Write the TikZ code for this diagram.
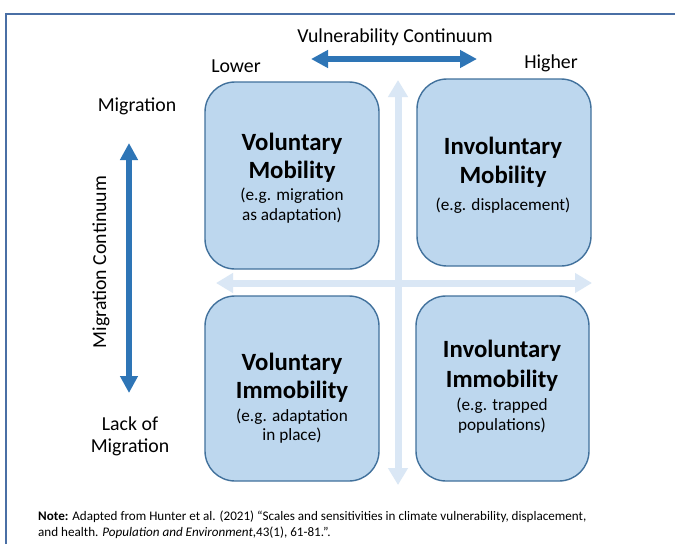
\documentclass[tikz,border=0pt]{standalone}
\usepackage{fontspec}
\setmainfont{Carlito}
\usetikzlibrary{arrows.meta}

\definecolor{framecol}{HTML}{4A6FA5}
\definecolor{axisdark}{HTML}{2E75B6}
\definecolor{axislight}{HTML}{DAE7F5}
\definecolor{quadfill}{HTML}{BDD7EE}
\definecolor{quadline}{HTML}{41719C}

\tikzset{
  label/.style={inner sep=0pt, anchor=base, font=\fontsize{19.8}{23}\selectfont},
  qtitle/.style={inner sep=0pt, anchor=base, font=\bfseries\fontsize{24.8}{28}\selectfont},
  qsub/.style={inner sep=0pt, anchor=base, font=\fontsize{17.2}{20}\selectfont},
  quad/.style={draw=quadline, line width=1.4pt, fill=quadfill, rounded corners=30pt,
    minimum width=174pt, inner sep=0pt},
  darkaxis/.style={draw=axisdark, line width=5.5pt,
    {Triangle[width=17pt,length=17pt]}-{Triangle[width=17pt,length=17pt]}},
  lightaxis/.style={draw=axislight, line width=7pt,
    {Triangle[width=19pt,length=17pt]}-{Triangle[width=19pt,length=17pt]}},
  notetext/.style={inner sep=0pt, anchor=base west, font=\fontsize{13.1}{15}\selectfont}
}

\begin{document}
\begin{tikzpicture}[x=1pt,y=-1pt]
  \useasboundingbox (0,0) rectangle (675,544);
  \fill[white] (0,0) rectangle (675,544);

  % outer frame
  \draw[framecol, line width=2pt] (6,544) -- (6,14) -- (675,14);

  % light cross axes behind the quadrants
  \coordinate (hl) at (216,283);
  \coordinate (hr) at (592,283);
  \coordinate (vt) at (398,80);
  \coordinate (vb) at (398,485);
  \draw[lightaxis] (hl) -- (hr);
  \draw[lightaxis] (vt) -- (vb);

  % quadrants
  \node[quad, minimum height=187pt] (vm) at (292,175.5) {};
  \node[quad, minimum height=187pt] (im) at (504,172.5) {};
  \node[quad, minimum height=185pt] (vi) at (292,388.5) {};
  \node[quad, minimum height=185pt, minimum width=173pt] (ii) at (502.5,388.5) {};

  % quadrant texts
  \node[qtitle] (vmA) at (292,150) {Voluntary};
  \node[qtitle] (vmB) at (292,178) {Mobility};
  \node[qsub]   (vmC) at (292,200) {(e.g. migration};
  \node[qsub]   (vmD) at (292,220) {as adaptation)};

  \node[qtitle] (imA) at (503,154) {Involuntary};
  \node[qtitle] (imB) at (503,183) {Mobility};
  \node[qsub]   (imC) at (503,210) {(e.g. displacement)};

  \node[qtitle] (viA) at (292,370) {Voluntary};
  \node[qtitle] (viB) at (292,398) {Immobility};
  \node[qsub]   (viC) at (292,421) {(e.g. adaptation};
  \node[qsub]   (viD) at (292,440) {in place)};

  \node[qtitle] (iiA) at (502,357) {Involuntary};
  \node[qtitle] (iiB) at (502,387) {Immobility};
  \node[qsub]   (iiC) at (502,410) {(e.g. trapped};
  \node[qsub]   (iiD) at (502,430) {populations)};

  % vulnerability axis
  \node[label] (vc) at (395,42) {Vulnerability Continuum};
  \node[label] (lo) at (236,72) {Lower};
  \node[label] (hi) at (551,68) {Higher};
  \coordinate (va) at (311,59);
  \coordinate (vz) at (477,59);
  \draw[darkaxis] (va) -- (vz);

  % migration axis
  \node[label] (mg) at (137,111) {Migration};
  \node[label] (lk) at (130,430) {Lack of};
  \node[label] (lm) at (130,452) {Migration};
  \node[inner sep=0pt, font=\fontsize{19.8}{23}\selectfont, rotate=90] (mc) at (101,262) {Migration Continuum};
  \coordinate (ma) at (129,143);
  \coordinate (mz) at (129,393);
  \draw[darkaxis] (ma) -- (mz);

  % source note
  \node[notetext] (n1) at (38,520) {\textbf{Note:} Adapted from Hunter et al. (2021) “Scales and sensitivities in climate vulnerability, displacement,};
  \node[notetext] (n2) at (38,536) {and health. \textit{Population and Environment},43(1), 61-81.”.};
\end{tikzpicture}
\end{document}
